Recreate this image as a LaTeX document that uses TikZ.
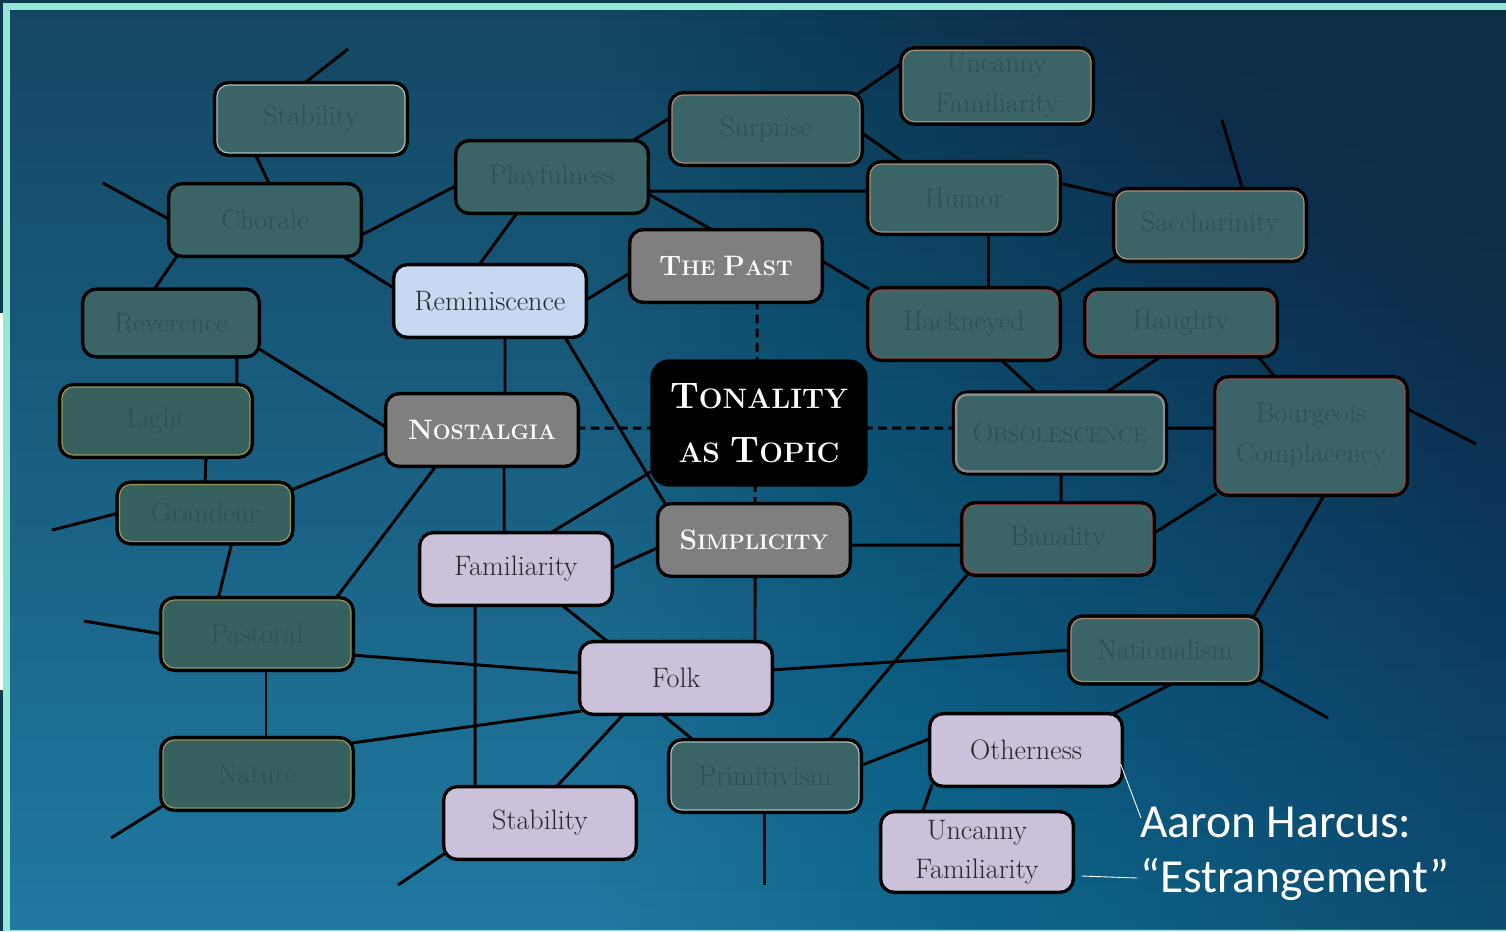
\documentclass[tikz,border=0pt]{standalone}
\usepackage{fontspec}
\newfontfamily\notefont{Carlito}
\usetikzlibrary{positioning}
\definecolor{frame}{RGB}{149,232,213}
\definecolor{deep}{RGB}{14,58,82}
\definecolor{bgtop}{RGB}{19,70,98}
\definecolor{bgbot}{RGB}{31,121,161}
\definecolor{bgdark}{RGB}{12,46,68}
\definecolor{faded}{RGB}{59,100,103}
\definecolor{fadedgreen}{RGB}{55,97,94}
\definecolor{fadedtext}{RGB}{46,81,84}
\definecolor{pastgray}{RGB}{127,127,127}
\definecolor{remblue}{RGB}{198,217,241}
\definecolor{lavender}{RGB}{204,193,218}
\definecolor{rimwhite}{RGB}{170,190,190}
\definecolor{rimpeach}{RGB}{170,140,120}
\definecolor{rimred}{RGB}{150,70,65}
\definecolor{rimyellow}{RGB}{150,150,90}
\definecolor{rimgray}{RGB}{140,140,140}
\pgfdeclarelayer{back}
\pgfdeclarelayer{links}
\pgfsetlayers{back,links,main}
\newcommand\initcap[1]{{\fontsize{16}{19}\selectfont #1}}
\newcommand\topcap[1]{{\fontsize{21}{25}\selectfont #1}}
\tikzset{
  box/.style={rectangle, rounded corners=6.5pt, minimum width=3.76cm, minimum height=1.36cm,
    inner sep=2pt, align=center, font=\fontsize{16}{22.5}\selectfont,
    line width=0.7pt, preaction={draw=black, line width=4.6pt}},
  dim/.style={box, fill=faded, draw=#1, text=fadedtext},
  dim/.default=faded,
  dimg/.style={box, fill=fadedgreen, draw=rimyellow, text=fadedtext},
  topic/.style={box, fill=pastgray, draw=pastgray, text=white, font=\bfseries\fontsize{12}{15}\selectfont},
  lilac/.style={box, fill=lavender, draw=lavender, text=black!85},
  link/.style={line width=1.7pt, black},
  dlink/.style={link, dash pattern=on 5pt off 3pt},
  note/.style={white, line width=0.5pt}
}

\begin{document}
\begin{tikzpicture}[x=0.02cm, y=-0.02cm]
    \useasboundingbox (0,0) rectangle (1506,931);

    % BACKGROUND
    \begin{pgfonlayer}{back}
        \fill[deep] (0,0) rectangle (1506,931);
        \fill[frame] (3,3) rectangle (1506,931);
        \shade[top color=bgtop, bottom color=bgbot] (10,10) rectangle (1506,929);
        % darker towards the right
        \foreach \i in {0,...,44} {
            \fill[bgdark, opacity=0.012] ({600+20*\i},10) rectangle (1506,929);
        }
        \fill[white] (0,313) rectangle (3,690);
    \end{pgfonlayer}

    % FADED TOPICS
    \node[dim=rimwhite] (stabA) at (311,119) {Stability};
    \node[dim] (chor) at (265,220) {Chorale};
    \node[dim] (play) at (552,177) {Playfulness};
    \node[dim=rimpeach] (surp) at (766,129) {Surprise};
    \node[dim=rimpeach] (uncA) at (997,86) {Uncanny\\Familiarity};
    \node[dim=rimpeach] (humor) at (964,198) {Humor};
    \node[dim=rimpeach] (sacc) at (1210,225) {Saccharinity};
    \node[dim, minimum width=3.44cm, minimum height=1.26cm] (rev) at (171,323) {Reverence};
    \node[dim=rimred] (hack) at (964,324) {Hackneyed};
    \node[dim=rimred, minimum height=1.26cm] (haught) at (1181,323) {Haughty};
    \node[dimg] (light) at (156,421) {Light};
    \node[dim=rimgray, line width=1.4pt, minimum width=4.16cm, minimum height=1.54cm] (obso) at (1060,433)
        {\makebox[0pt][c]{\initcap{O}{\fontsize{12}{15}\selectfont BSOLESCENCE}}};
    \node[dim=rimred, minimum height=2.28cm] (bourg) at (1311,436) {Bourgeois\\Complacency};
    \node[dimg, minimum width=3.42cm, minimum height=1.14cm] (grand) at (205,513) {Grandeur};
    \node[dim=rimred] (bana) at (1058,539) {Banality};
    \node[dimg] (pasto) at (257,634) {Pastoral};
    \node[dim=rimpeach, minimum height=1.26cm] (nation) at (1165,650) {Nationalism};
    \node[dimg] (nature) at (257,774) {Nature};
    \node[dim=rimwhite] (primi) at (765,776) {Primitivism};

    % MAIN TOPICS
    \node[topic] (past) at (726,266) {\initcap{T}HE \initcap{P}AST};
    \node[box, fill=remblue, draw=remblue, text=black!85] (remi) at (490,301) {Reminiscence};
    \node[topic] (nost) at (482,430) {\initcap{N}OSTALGIA};
    \node[box, fill=black, draw=black, text=white, rounded corners=8pt, minimum width=4.18cm, minimum height=2.38cm,
        font=\bfseries\fontsize{16}{31}\selectfont] (tona) at (759,423) {\topcap{T}ONALITY\\AS \topcap{T}OPIC};
    \node[topic] (simp) at (754,540) {\initcap{S}IMPLICITY};
    \node[lilac] (fam) at (516,569) {Familiarity};
    \node[lilac] (folk) at (676,678) {Folk};
    \node[lilac] (other) at (1026,750) {Otherness};
    \node[lilac] (stabB) at (540,823) {Stability};
    \node[lilac, minimum height=1.52cm] (uncB) at (977,852) {Uncanny\\Familiarity};

    % HARCUS NOTE
    \node[anchor=north west, inner sep=0pt, text=white, align=left,
        font=\notefont\fontsize{27}{31.2}\selectfont] (harcus) at (1140,807) {Aaron Harcus:\\“Estrangement”};
    \draw[note] ([yshift=-0.28cm]other.east) -- ([xshift=0.02cm,yshift=-0.22cm]harcus.north west);
    \draw[note] ([xshift=0.2cm,yshift=-0.48cm]uncB.east) -- ([xshift=-0.06cm,yshift=-1.42cm]harcus.north west);

    % FREE ENDS
    \coordinate (fStab) at (348,49);
    \coordinate (fChor) at (103,183);
    \coordinate (fSacc) at (1222,120);
    \coordinate (fGrand) at (52,530);
    \coordinate (fBourg) at (1476,444);
    \coordinate (fPasto) at (84,621);
    \coordinate (fNature) at (111,838);
    \coordinate (fNation) at (1328,718);
    \coordinate (fPrimi) at (764,885);
    \coordinate (fStabB) at (398,885);

    % CONNECTORS
    \begin{pgfonlayer}{links}
        \draw[link] ([xshift=-0.16cm]stabA.north) -- (fStab);
        \draw[link] ([xshift=-1.12cm]stabA.south) -- ([xshift=0.1cm]chor.north);
        \draw[link] (chor.west) -- (fChor);
        \draw[link] ([xshift=-1.74cm]chor.south) -- ([xshift=-0.36cm]rev.north);
        \draw[link] ([xshift=1.5cm]chor.south) -- ([yshift=0.24cm]remi.west);
        \draw[link] ([yshift=-0.32cm]chor.east) -- ([yshift=-0.16cm]play.west);
        \draw[link] ([xshift=1.56cm]play.north) -- ([yshift=0.24cm]surp.west);
        \draw[link] ([yshift=-0.28cm]play.east) -- ([yshift=0.14cm]humor.west);
        \draw[link] ([yshift=-0.32cm]play.east) -- ([xshift=-0.22cm]past.north);
        \draw[link] ([xshift=-0.68cm]play.south) -- ([xshift=-0.24cm]remi.north);
        \draw[link] ([xshift=1.82cm]surp.north) -- ([yshift=0.46cm]uncA.west);
        \draw[link] ([yshift=-0.06cm]surp.east) -- ([xshift=-1.18cm]humor.north);
        \draw[link] ([yshift=0.3cm]humor.east) -- ([yshift=0.58cm]sacc.west);
        \draw[link] ([xshift=0.48cm]humor.south) -- ([xshift=0.48cm]hack.north);
        \draw[link] ([xshift=0.66cm]sacc.north) -- (fSacc);
        \draw[link] ([yshift=-0.64cm]sacc.west) -- ([yshift=0.64cm]hack.east);
        \draw[link] ([yshift=-0.12cm]past.west) -- (remi.east);
        \draw[link] ([yshift=0.12cm]past.east) -- (hack.north west);
        \draw[dlink] ([xshift=0.62cm]past.south) -- ([xshift=-0.04cm]tona.north);
        \draw[link] ([xshift=0.3cm]remi.south) -- ([xshift=0.46cm]nost.north);
        \draw[link] ([xshift=1.48cm]remi.south) -- ([xshift=-1.76cm]simp.north);
        \draw[link] ([yshift=-0.5cm]rev.east) -- ([yshift=0.04cm]nost.west);
        \draw[link] ([xshift=1.32cm]rev.south) -- ([xshift=1.62cm]light.north);
        \draw[link] ([xshift=1cm]light.south) -- (grand.north);
        \draw[link] (grand.west) -- (fGrand);
        \draw[link] ([yshift=0.46cm]grand.east) -- ([yshift=-0.44cm]nost.west);
        \draw[link] ([xshift=0.54cm]grand.south) -- ([xshift=-0.78cm]pasto.north);
        \draw[link] ([xshift=-0.9cm]nost.south) -- ([xshift=1.56cm]pasto.north);
        \draw[link] ([xshift=0.44cm]nost.south) -- ([xshift=-0.24cm]fam.north);
        \draw[dlink] ([yshift=0.04cm]nost.east) -- ([yshift=-0.1cm]tona.west);
        \draw[dlink] ([yshift=-0.1cm]tona.east) -- ([yshift=0.1cm]obso.west);
        \draw[dlink] ([xshift=-0.08cm]tona.south) -- ([xshift=0.02cm]simp.north);
        \draw[link] ([yshift=-0.94cm]tona.west) -- ([xshift=0.64cm]fam.north);
        \draw[link] (fam.east) -- ([yshift=-0.14cm]simp.west);
        \draw[link] ([xshift=-0.82cm]fam.south) -- ([xshift=-1.3cm]stabB.north);
        \draw[link] ([xshift=0.88cm]fam.south) -- ([xshift=-1.32cm]folk.north);
        \draw[link] (pasto.west) -- (fPasto);
        \draw[link] ([yshift=-0.42cm]pasto.east) -- ([yshift=0.1cm]folk.west);
        \draw[link] ([xshift=0.18cm]pasto.south) -- ([xshift=0.18cm]nature.north);
        \draw[link] ([yshift=-0.64cm]nature.west) -- (fNature);
        \draw[link] ([yshift=0.62cm]nature.east) -- ([yshift=-0.66cm]folk.west);
        \draw[link] ([xshift=0.02cm]simp.south) -- ([xshift=1.58cm]folk.north);
        \draw[link] ([yshift=-0.1cm]simp.east) -- ([yshift=-0.12cm]bana.west);
        \draw[link] ([xshift=0.72cm]hack.south) -- ([xshift=-0.46cm]obso.north);
        \draw[link] ([xshift=-0.36cm]haught.south) -- ([xshift=0.9cm]obso.north);
        \draw[link] ([yshift=0.1cm]obso.east) -- ([yshift=0.16cm]bourg.west);
        \draw[link] ([xshift=0.02cm]obso.south) -- ([xshift=0.06cm]bana.north);
        \draw[link] ([xshift=1.52cm]haught.south) -- ([xshift=-0.7cm]bourg.north);
        \draw[link] ([yshift=0.56cm]bourg.east) -- (fBourg);
        \draw[link] ([yshift=0.1cm]bana.east) -- (bourg.south west);
        \draw[link] ([xshift=0.28cm]bourg.south) -- ([xshift=1.76cm]nation.north);
        \draw[link] ([xshift=-1.8cm]bana.south) -- ([xshift=1.26cm]primi.north);
        \draw[link] ([yshift=0.16cm]folk.east) -- (nation.west);
        \draw[link] ([xshift=-1.02cm]folk.south) -- ([xshift=0.3cm]stabB.north);
        \draw[link] ([xshift=-0.32cm]folk.south) -- ([xshift=-1.4cm]primi.north);
        \draw[link] ([xshift=0.2cm]nation.south) -- ([xshift=1.68cm]other.north);
        \draw[link] ([yshift=-0.6cm]nation.east) -- (fNation);
        \draw[link] ([yshift=0.2cm]primi.east) -- ([yshift=0.24cm]other.west);
        \draw[link] ([xshift=-0.02cm]primi.south) -- (fPrimi);
        \draw[link] ([xshift=-1.88cm]other.south) -- ([xshift=-1.1cm]uncB.north);
        \draw[link] ([yshift=-0.6cm]stabB.west) -- (fStabB);
    \end{pgfonlayer}

\end{tikzpicture}
\end{document}
